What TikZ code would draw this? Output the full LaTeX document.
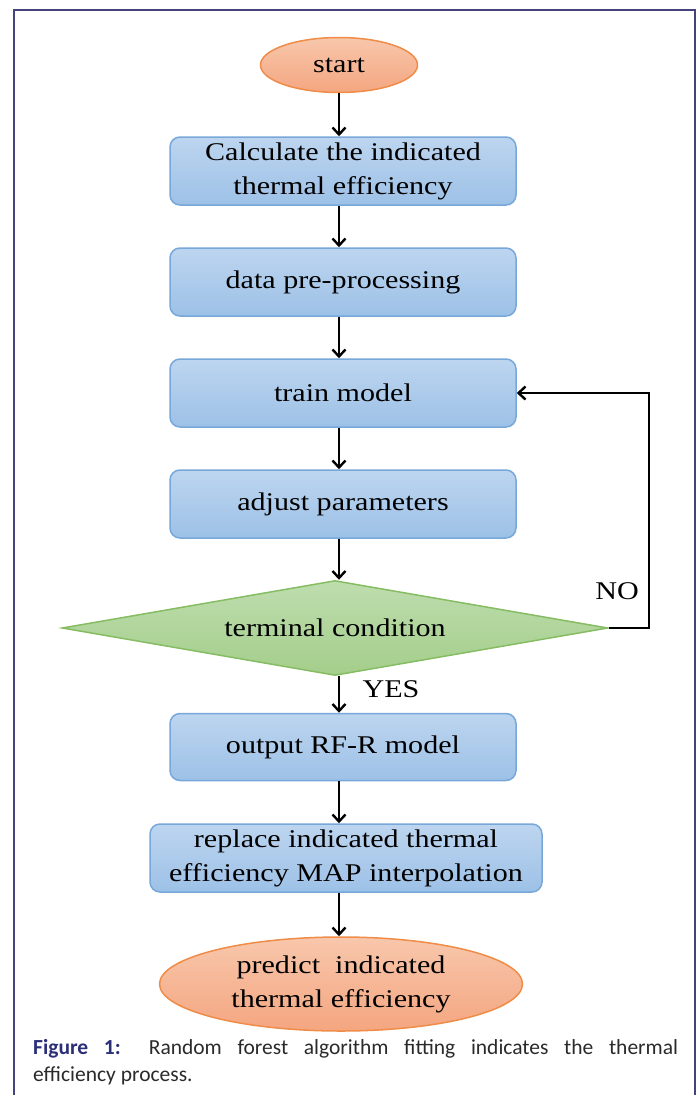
\documentclass[tikz,border=0pt]{standalone}
\usepackage{fontspec}
\setmainfont{Liberation Serif}
\newfontfamily\flowfont[FakeStretch=1.18]{Liberation Serif}
\newfontfamily\capfont{Carlito}
\usetikzlibrary{shapes.geometric,arrows.meta}

\definecolor{boxtop}{HTML}{BDD5EF}
\definecolor{boxbot}{HTML}{9DC1E7}
\definecolor{boxline}{HTML}{78A7DA}
\definecolor{ovaltop}{HTML}{F8C7AC}
\definecolor{ovalbot}{HTML}{F4A680}
\definecolor{ovalline}{HTML}{EF8C48}
\definecolor{condtop}{HTML}{BEDDAE}
\definecolor{condbot}{HTML}{A4CE8B}
\definecolor{condline}{HTML}{86BD62}
\definecolor{framecol}{HTML}{45437C}
\definecolor{capblue}{HTML}{2B2F78}
\definecolor{captext}{HTML}{2A2A2A}

\begin{document}
\begin{tikzpicture}[x=1pt,y=-1pt]

\tikzset{
  flow text/.style={
    font=\flowfont\fontsize{25.5}{34}\selectfont,
    align=center,
  },
  process box/.style={
    flow text,
    rectangle,
    rounded corners=10pt,
    draw=boxline,
    line width=1.5pt,
    top color=boxtop,
    bottom color=boxbot,
    minimum width=346pt,
    minimum height=68pt,
    inner sep=2pt,
  },
  terminal/.style={
    flow text,
    ellipse,
    draw=ovalline,
    line width=1.5pt,
    top color=ovaltop,
    bottom color=ovalbot,
    inner sep=0pt,
  },
  decision/.style={
    flow text,
    diamond,
    aspect=5.75,
    draw=condline,
    line width=1.5pt,
    top color=condtop,
    bottom color=condbot,
    inner sep=0pt,
    minimum width=546pt,
    minimum height=95pt,
  },
  flow arrow/.style={
    line width=2.4pt,
    -{Straight Barb[length=7pt,width=13pt,line width=2.4pt]},
  }
}

\useasboundingbox (0,0) rectangle (698,1095);

% frame
\draw[framecol, line width=1.5pt] (14,1096) -- (14,10) -- (695,10) -- (695,1096);

% Start
\node[terminal, minimum width=157pt, minimum height=55pt] (start) at (339,65) {start};

% Steps
\node[process box] (calc) at (343,171) {Calculate the indicated\\thermal efficiency};
\node[process box] (prep) at (343,282) {data pre-processing};
\node[process box] (train) at (343,393) {train model};
\node[process box] (adjust) at (343,504) {adjust parameters};

% Decision
\node[decision] (cond) at (335,628) {terminal condition};

% Output
\node[process box, minimum height=67pt] (output) at (343,747) {output RF-R model};
\node[process box, minimum width=392pt] (replace) at (346,858) {replace indicated thermal\\efficiency MAP interpolation};

% End
\node[terminal, minimum width=363pt, minimum height=94pt] (finish) at (341,984) {predict\ \ indicated\\thermal efficiency};

% Edges
\coordinate (loopbot) at (649,628);
\coordinate (looptop) at (649,393);

\draw[flow arrow] (start.south) -- (start.south |- calc.north);
\draw[flow arrow] (calc.south -| start.south) -- (start.south |- prep.north);
\draw[flow arrow] (prep.south -| start.south) -- (start.south |- train.north);
\draw[flow arrow] (train.south -| start.south) -- (start.south |- adjust.north);
\draw[flow arrow] (adjust.south -| start.south) -- (cond.north -| start.south);
\draw[flow arrow] (cond.south -| start.south) -- (start.south |- output.north);
\draw[flow arrow] (output.south -| start.south) -- (start.south |- replace.north);
\draw[flow arrow] (replace.south -| start.south) -- (start.south |- finish.north);

\draw[flow arrow] (cond.east) -- (loopbot) -- (looptop) -- (train.east);

% Branch labels
\node[flow text] (no) at (617,591) {NO};
\node[flow text] (yes) at (391,689) {YES};

% Caption
\node[text width=645pt, align=justify, inner sep=0pt, anchor=north west,
      font=\capfont\fontsize{21.5}{27}\selectfont, text=captext] (caption) at (33,1039)
  {\hyphenpenalty=10000 {\bfseries\color{capblue}Figure 1:} Random forest algorithm fitting indicates the thermal\linebreak efficiency process.};

\end{tikzpicture}
\end{document}
